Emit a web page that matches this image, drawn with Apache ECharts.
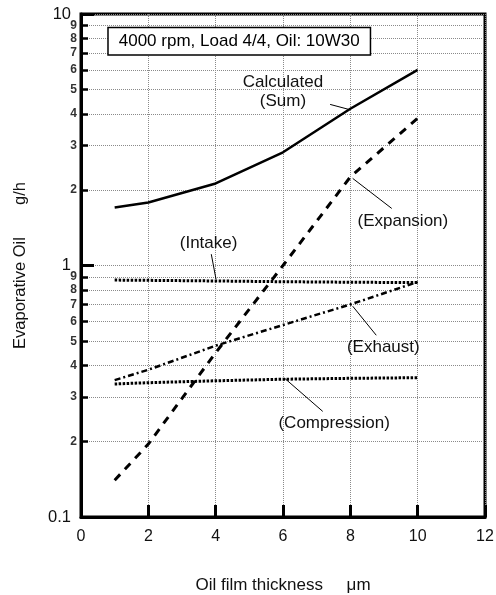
<!DOCTYPE html>
<html>
<head>
<meta charset="utf-8">
<script src="https://cdn.jsdelivr.net/npm/echarts@6/dist/echarts.min.js"></script>
<style>
  html, body { margin: 0; padding: 0; background: #fff; }
  #chart { width: 496px; height: 595px; }
</style>
</head>
<body>
<div id="chart"></div>
<script>
// Evaporative oil per engine stroke vs. oil film thickness (g/h, log scale)
const thickness   = [1, 2, 4, 6, 8, 10];
const calcSum     = [1.70, 1.78, 2.12, 2.82, 4.20, 6.00];
const expansion   = [0.14, 0.195, 0.45, 1.0, 2.25, 3.85];
const intake      = [0.875, 0.873, 0.868, 0.862, 0.858, 0.855];
const exhaust     = [0.35, 0.385, 0.48, 0.58, 0.70, 0.86];
const compression = [0.338, 0.342, 0.348, 0.353, 0.356, 0.358];

const yMajorTicks = [0.1, 1, 10];
const yMinorTicks = [0.2, 0.3, 0.4, 0.5, 0.6, 0.7, 0.8, 0.9, 2, 3, 4, 5, 6, 7, 8, 9];

const conditionText = '4000 rpm, Load 4/4, Oil: 10W30';

const FONT = "'Liberation Sans', Arial, Helvetica, sans-serif";
const INK = '#111';
const GRIDLINE = { type: 'dotted', color: '#8a8a8a', width: 1 };

const pairs = ys => thickness.map((x, i) => [x, ys[i]]);
const leadDigit = v => String(Math.round(v / Math.pow(10, Math.floor(Math.log10(v) + 1e-9))));

const chart = echarts.init(document.getElementById('chart'), null, { renderer: 'canvas' });

const lineSeries = (name, ys, width, type) => ({
  name, type: 'line', data: pairs(ys), yAxisIndex: 0,
  symbol: 'none', smooth: false, z: 5,
  lineStyle: { color: '#000', width, type, cap: 'butt' }
});

chart.setOption({
  animation: false,
  backgroundColor: '#fff',
  grid: {
    left: 81, right: 11, top: 14, bottom: 78,
    containLabel: false, outerBoundsMode: 'none',
    show: true, borderColor: '#000', borderWidth: 3, backgroundColor: 'transparent'
  },
  xAxis: {
    type: 'value', min: 0, max: 12, interval: 2,
    name: 'Oil film thickness     \u03bcm',
    nameLocation: 'middle', nameGap: 60,
    nameTextStyle: { fontFamily: FONT, fontSize: 17, color: INK },
    axisLine: { lineStyle: { color: '#000', width: 3 } },
    axisTick: { inside: true, length: 12, lineStyle: { color: '#000', width: 3 } },
    axisLabel: { fontFamily: FONT, fontSize: 16, color: INK, margin: 12 },
    splitLine: { show: true, lineStyle: GRIDLINE }
  },
  yAxis: [
    {
      // minor decade ticks 2..9 with their small labels and dotted grid
      type: 'log', logBase: 10, min: 0.1, max: 10, position: 'left',
      name: 'Evaporative Oil       g/h',
      nameLocation: 'middle', nameGap: 52,
      nameTextStyle: { fontFamily: FONT, fontSize: 16.5, color: INK },
      axisLine: { show: true, lineStyle: { color: '#000', width: 3 } },
      axisTick: { show: true, inside: true, length: 7, customValues: yMinorTicks,
                  lineStyle: { color: '#000', width: 2.5 } },
      axisLabel: { show: true, customValues: yMinorTicks, formatter: v => leadDigit(v),
                   fontFamily: FONT, fontSize: 12, fontWeight: 'bold', color: '#333', margin: 4 },
      splitLine: { show: true, lineStyle: GRIDLINE }
    },
    {
      // decade ticks 0.1, 1, 10
      type: 'log', logBase: 10, min: 0.1, max: 10, position: 'left',
      axisLine: { show: false },
      axisTick: { show: true, inside: true, length: 13, customValues: yMajorTicks,
                  lineStyle: { color: '#000', width: 3 } },
      axisLabel: { show: true, customValues: yMajorTicks, formatter: v => String(v),
                   fontFamily: FONT, fontSize: 16.5, color: INK, margin: 10 },
      splitLine: { show: true, lineStyle: GRIDLINE }
    }
  ],
  series: [
    lineSeries('Calculated (Sum)', calcSum, 2.5, 'solid'),
    lineSeries('Expansion', expansion, 3, [8, 7]),
    lineSeries('Intake', intake, 3, [2.5, 1.5]),
    lineSeries('Exhaust', exhaust, 2.5, [6, 3, 2, 3]),
    lineSeries('Compression', compression, 3, [2.5, 1.5])
  ]
});

// Curve labels with leader lines, anchored in data coordinates
const curveLabels = [
  { text: 'Calculated',    at: [6.0, 5.33] },
  { text: '(Sum)',         at: [6.0, 4.48] },
  { text: '(Expansion)',   at: [9.56, 1.50] },
  { text: '(Intake)',      at: [3.79, 1.223] },
  { text: '(Exhaust)',     at: [8.98, 0.474] },
  { text: '(Compression)', at: [7.52, 0.236] }
];
const leaders = [
  [[7.40, 4.37], [7.94, 4.18]],
  [[8.07, 2.22], [9.23, 1.686]],
  [[3.87, 1.109], [4.01, 0.882]],
  [[8.07, 0.689], [8.77, 0.528]],
  [[6.06, 0.355], [7.18, 0.263]]
];
const boxAt = [4.70, 7.80];

const toPx = p => chart.convertToPixel({ xAxisIndex: 0, yAxisIndex: 0 }, p);

const graphics = [];
curveLabels.forEach(l => {
  const [x, y] = toPx(l.at);
  graphics.push({
    type: 'text', x, y, z: 20,
    style: { text: l.text, fill: INK, font: `17px ${FONT}`, align: 'center', verticalAlign: 'middle' }
  });
});
leaders.forEach(([a, b]) => {
  const p = toPx(a), q = toPx(b);
  graphics.push({
    type: 'line', z: 20,
    shape: { x1: p[0], y1: p[1], x2: q[0], y2: q[1] },
    style: { stroke: '#000', lineWidth: 1 }
  });
});
const bp = toPx(boxAt);
graphics.push({
  type: 'text', x: bp[0], y: bp[1], z: 20,
  style: {
    text: conditionText, fill: '#000', font: `17px ${FONT}`,
    align: 'center', verticalAlign: 'middle',
    backgroundColor: '#fff', borderColor: '#000', borderWidth: 1.5,
    padding: [5, 10, 4, 10]
  }
});
chart.setOption({ graphic: graphics });
</script>
</body>
</html>
